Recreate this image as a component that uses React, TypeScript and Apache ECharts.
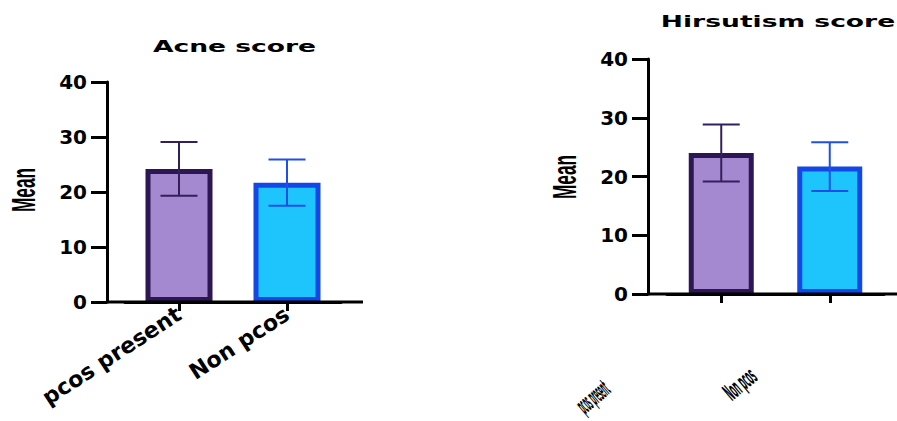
import React, { useEffect, useRef } from "react";
import * as echarts from "echarts";

const categories = ["pcos present", "Non pcos"];
const acneMean = [24.2, 21.7];
const acneSD = [4.9, 4.2];
const hirsMean = [24.0, 21.7];
const hirsSD = [4.85, 4.15];
const yTicks = { min: 0, max: 40, interval: 10 };

const fills = ["#a488d0", "#1ec5fd"];
const borders = ["#2c1752", "#1448e6"];
const errColors = ["#33205a", "#1e4fe8"];

const FONT = "DejaVu Sans";

function barData(vals: number[]) {
  return vals.map((v, i) => ({
    value: v,
    itemStyle: { color: fills[i], borderColor: borders[i], borderWidth: 5 },
  }));
}

function errData(means: number[], sds: number[]) {
  return means.map((m, i) => [i, m, sds[i]]);
}

function renderErr(params: any, api: any) {
  const x = api.value(0);
  const m = api.value(1);
  const s = api.value(2);
  const hi = api.coord([x, m + s]);
  const lo = api.coord([x, m - s]);
  const hw = 18.5;
  const col = errColors[params.dataIndex];
  const st = { stroke: col, lineWidth: 2 };
  return {
    type: "group",
    children: [
      { type: "line", shape: { x1: hi[0], y1: hi[1], x2: lo[0], y2: lo[1] }, style: st },
      { type: "line", shape: { x1: hi[0] - hw, y1: hi[1], x2: hi[0] + hw, y2: hi[1] }, style: st },
      { type: "line", shape: { x1: lo[0] - hw, y1: lo[1], x2: lo[0] + hw, y2: lo[1] }, style: st },
    ],
  };
}

function yAxisOpt(gridIndex: number, offset: number) {
  return {
    type: "value",
    gridIndex,
    min: yTicks.min,
    max: yTicks.max,
    interval: yTicks.interval,
    offset,
    splitLine: { show: false },
    axisLine: { show: true, lineStyle: { color: "#000", width: 3 } },
    axisTick: { show: true, length: 16, lineStyle: { color: "#000", width: 3 } },
    axisLabel: { margin: 20, color: "#000", fontSize: 20, fontWeight: "bold", fontFamily: FONT },
  };
}

function xAxisOpt(gridIndex: number, showLabels: boolean) {
  return {
    type: "category",
    gridIndex,
    data: categories,
    axisLine: { show: true, lineStyle: { color: "#000", width: 3 } },
    axisTick: { show: true, alignWithLabel: true, length: 9, lineStyle: { color: "#000", width: 3 } },
    axisLabel: {
      show: showLabels,
      rotate: 33,
      margin: 10,
      interval: 0,
      color: "#000",
      fontSize: 22,
      fontWeight: "bold",
      fontFamily: FONT,
    },
  };
}

export default function App() {
  const ref = useRef<HTMLDivElement>(null);
  useEffect(() => {
    if (!ref.current) return;
    const chart = echarts.init(ref.current, null, { renderer: "svg" });
    const titleStyle = { fontSize: 16, fontWeight: "bold", fontFamily: FONT, fill: "#000", align: "center", verticalAlign: "middle" };
    const meanStyle = { text: "Mean", fontSize: 33, fontWeight: "bold", fontFamily: "Liberation Sans", fill: "#000", align: "center", verticalAlign: "middle" };
    const blobStyle = { fontSize: 24, fontWeight: 900, fontFamily: FONT, fill: "#000", align: "center", verticalAlign: "middle" };
    chart.setOption({
      animation: false,
      backgroundColor: "#fff",
      grid: [
        { left: 125, right: 556, top: 82, bottom: 119 },
        { left: 667, right: 13, top: 59, bottom: 127 },
      ],
      xAxis: [xAxisOpt(0, true), xAxisOpt(1, false)],
      yAxis: [yAxisOpt(0, 18), yAxisOpt(1, 19)],
      series: [
        { type: "bar", xAxisIndex: 0, yAxisIndex: 0, barWidth: 67, data: barData(acneMean), z: 2 },
        { type: "bar", xAxisIndex: 1, yAxisIndex: 1, barWidth: 65, data: barData(hirsMean), z: 2 },
        { type: "custom", xAxisIndex: 0, yAxisIndex: 0, renderItem: renderErr, data: errData(acneMean, acneSD), encode: { x: 0, y: 1 }, z: 5 },
        { type: "custom", xAxisIndex: 1, yAxisIndex: 1, renderItem: renderErr, data: errData(hirsMean, hirsSD), encode: { x: 0, y: 1 }, z: 5 },
      ],
      graphic: [
        { type: "line", shape: { x1: 107, y1: 302, x2: 363, y2: 302 }, style: { stroke: "#000", lineWidth: 3 }, z: 10 },
        { type: "line", shape: { x1: 648, y1: 294, x2: 897, y2: 294 }, style: { stroke: "#000", lineWidth: 3 }, z: 10 },
        { type: "text", x: 234.5, y: 47, scaleX: 1.66, style: { ...titleStyle, text: "Acne score" } },
        { type: "text", x: 778, y: 21.5, scaleX: 1.66, style: { ...titleStyle, text: "Hirsutism score" } },
        { type: "text", x: 23.5, y: 190, rotation: Math.PI / 2, scaleX: 0.52, style: meanStyle },
        { type: "text", x: 564.5, y: 177, rotation: Math.PI / 2, scaleX: 0.52, style: meanStyle },
        { type: "text", x: 593, y: 397, rotation: (40 * Math.PI) / 180, scaleX: 0.2, style: { ...blobStyle, text: categories[0] } },
        { type: "text", x: 740, y: 384, rotation: (40 * Math.PI) / 180, scaleX: 0.28, style: { ...blobStyle, text: categories[1] } },
      ],
    });
    return () => chart.dispose();
  }, []);
  return <div ref={ref} style={{ position: "fixed", left: 0, top: 0, width: 897, height: 421 }} />;
}
